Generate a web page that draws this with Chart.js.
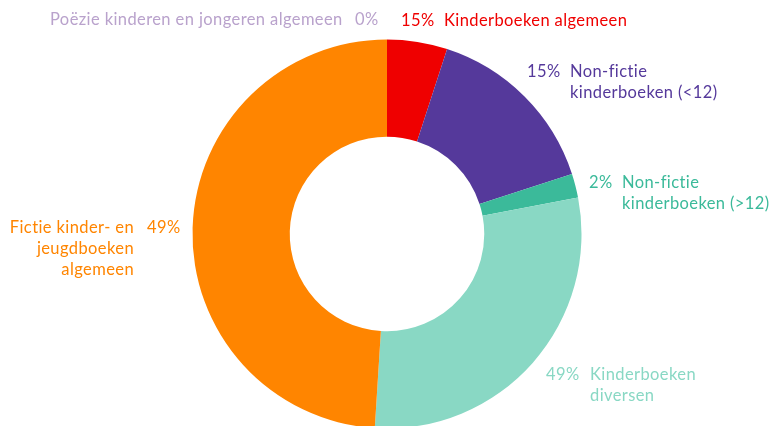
<!DOCTYPE html>
<html>
<head>
<meta charset="utf-8">
<script src="https://cdn.jsdelivr.net/npm/chart.js@4/dist/chart.umd.min.js"></script>
<style>
    html, body { margin: 0; padding: 0; background: #fff; overflow: hidden; }
    #wrap { position: relative; width: 774px; height: 426px; overflow: hidden; }
    canvas { position: absolute; left: 0; top: 0; }
</style>
</head>
<body>
<div id="wrap"><canvas id="donut" width="774" height="434"></canvas></div>
<script>
// categories, in the order they go round the ring (clockwise from the top)
const categories = [
    "Kinderboeken algemeen",
    "Non-fictie kinderboeken (<12)",
    "Non-fictie kinderboeken (>12)",
    "Kinderboeken diversen",
    "Fictie kinder- en jeugdboeken algemeen",
    "Poëzie kinderen en jongeren algemeen"
];
// slice sizes as drawn
const shares = [5, 15, 2, 29, 49, 0];
// the percentages printed next to each label
const printedPct = ["15%", "15%", "2%", "49%", "49%", "0%"];
const colors = ["#ef0000", "#55399b", "#3bba9a", "#89d8c4", "#ff8500", "#b9a2cc"];

// where each label goes: pct x, text x, first line y, text alignment
const labelLayout = [
    {px: 401, tx: 444, y: 21, align: "left", lines: ["Kinderboeken algemeen"]},
    {px: 527, tx: 570, y: 72, align: "left", lines: ["Non-fictie", "kinderboeken (<12)"]},
    {px: 589, tx: 622, y: 183, align: "left", lines: ["Non-fictie", "kinderboeken (>12)"]},
    {px: 546, tx: 590, y: 375, align: "left", lines: ["Kinderboeken", "diversen"]},
    {px: 147, tx: 134, y: 228, align: "right", lines: ["Fictie kinder- en", "jeugdboeken", "algemeen"]},
    {px: 355, tx: 50, y: 20, align: "left", lines: ["Poëzie kinderen en jongeren algemeen"]}
];

const lineHeight = 21;
const labelFont = "16.5px Lato";

const labelPlugin = {
    id: "sideLabels",
    afterDraw(chart) {
        const ctx = chart.ctx;
        ctx.save();
        ctx.font = labelFont;
        ctx.letterSpacing = "0.4px";
        ctx.textBaseline = "middle";
        for (let i = 0; i < labelLayout.length; i++) {
            const l = labelLayout[i];
            ctx.fillStyle = colors[i];
            ctx.textAlign = "left";
            ctx.fillText(printedPct[i], l.px, l.y);
            ctx.textAlign = l.align;
            for (let j = 0; j < l.lines.length; j++) {
                ctx.fillText(l.lines[j], l.tx, l.y + j * lineHeight);
            }
        }
        ctx.restore();
    }
};

const ctx = document.getElementById("donut").getContext("2d");
new Chart(ctx, {
    type: "doughnut",
    data: {
        labels: categories,
        datasets: [{
            data: shares,
            backgroundColor: colors,
            borderWidth: 0
        }]
    },
    options: {
        responsive: false,
        animation: false,
        cutout: "50%",
        layout: { padding: { top: 39.5, bottom: 5.5, left: 0, right: 0 } },
        plugins: {
            legend: { display: false },
            tooltip: { enabled: false }
        }
    },
    plugins: [labelPlugin]
});
</script>
</body>
</html>
